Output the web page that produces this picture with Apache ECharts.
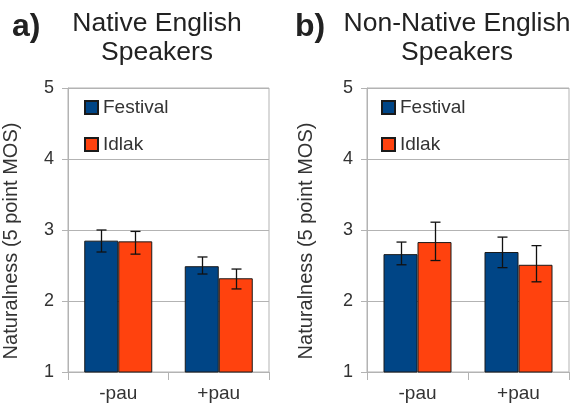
<!DOCTYPE html>
<html>
<head>
<meta charset="utf-8">
<script src="https://cdn.jsdelivr.net/npm/echarts@6/dist/echarts.min.js"></script>
<style>
  html, body { margin: 0; padding: 0; background: #fff; }
  #chart { width: 576px; height: 409px; }
</style>
</head>
<body>
<div id="chart"></div>
<script>
// categories and tick labels
var categories = ['-pau', '+pau'];
var yTicks = [1, 2, 3, 4, 5];

// a) native speakers
var nativeFestival = [2.85, 2.49];
var nativeFestivalLow = [2.69, 2.38];
var nativeFestivalHigh = [3.00, 2.62];
var nativeIdlak = [2.84, 2.32];
var nativeIdlakLow = [2.66, 2.17];
var nativeIdlakHigh = [2.98, 2.45];

// b) non-native speakers
var nonFestival = [2.66, 2.69];
var nonFestivalLow = [2.51, 2.47];
var nonFestivalHigh = [2.83, 2.90];
var nonIdlak = [2.83, 2.51];
var nonIdlakLow = [2.57, 2.27];
var nonIdlakHigh = [3.11, 2.78];

var FONT = '"Liberation Sans", Arial, sans-serif';
var BAR_W = 34;
var colFestival = '#004586';
var colIdlak = '#ff420e';

function errData(low, high) {
  return categories.map(function (c, i) { return [i, low[i], high[i]]; });
}

// error bars, shifted left/right of category centre by half a bar
function errSeries(name, axisIdx, low, high, shift) {
  return {
    type: 'custom',
    name: name + ' err',
    xAxisIndex: axisIdx,
    yAxisIndex: axisIdx,
    silent: true,
    z: 5,
    data: errData(low, high),
    renderItem: function (params, api) {
      var lo = api.coord([api.value(0), api.value(1)]);
      var hi = api.coord([api.value(0), api.value(2)]);
      var x = Math.round(lo[0] + shift) + 0.5;
      var cap = 5;
      var st = { stroke: '#111', lineWidth: 1.3 };
      return {
        type: 'group',
        children: [
          { type: 'line', shape: { x1: x, y1: lo[1], x2: x, y2: hi[1] }, style: st },
          { type: 'line', shape: { x1: x - cap, y1: lo[1], x2: x + cap, y2: lo[1] }, style: st },
          { type: 'line', shape: { x1: x - cap, y1: hi[1], x2: x + cap, y2: hi[1] }, style: st }
        ]
      };
    }
  };
}

function barSeries(name, axisIdx, data, color) {
  return {
    type: 'bar',
    name: name,
    xAxisIndex: axisIdx,
    yAxisIndex: axisIdx,
    data: data,
    barWidth: BAR_W,
    barGap: '0%',
    itemStyle: { color: color, borderColor: '#1a1a1a', borderWidth: 1 }
  };
}

function xAx(gi) {
  return {
    type: 'category',
    gridIndex: gi,
    data: categories,
    axisLine: { lineStyle: { color: '#b3b3b3' } },
    axisTick: { show: true, length: 8, lineStyle: { color: '#b3b3b3' } },
    axisLabel: { color: '#333', fontSize: 19, fontFamily: FONT, margin: 12 }
  };
}

function yAx(gi, gap) {
  return {
    type: 'value',
    gridIndex: gi,
    min: yTicks[0],
    max: yTicks[yTicks.length - 1],
    interval: 1,
    name: 'Naturalness (5 point MOS)',
    nameLocation: 'middle',
    nameGap: gap,
    // right padding nudges the rotated name down a little
    nameTextStyle: { color: '#333', fontSize: 20, fontFamily: FONT, padding: [0, 22, 0, 0] },
    axisLine: { show: true, lineStyle: { color: '#b3b3b3' } },
    axisTick: { show: true, length: 6, lineStyle: { color: '#b3b3b3' } },
    axisLabel: { color: '#333', fontSize: 18, fontFamily: FONT, margin: 14 },
    splitLine: { lineStyle: { color: '#b3b3b3' } }
  };
}

function legendAt(left) {
  return {
    orient: 'vertical',
    left: left,
    top: 93,
    itemGap: 18,
    itemWidth: 13,
    itemHeight: 13,
    icon: 'rect',
    data: ['Festival', 'Idlak'],
    textStyle: { color: '#333', fontSize: 19, fontFamily: FONT }
  };
}

var chart = echarts.init(document.getElementById('chart'));
chart.setOption({
  animation: false,
  title: [
    { text: 'a)', left: 7, top: 6, textStyle: { fontSize: 32, fontWeight: 'bold', color: '#222', fontFamily: FONT } },
    { text: 'Native English\nSpeakers', left: 152, top: 4, textAlign: 'center',
      textStyle: { fontSize: 26.5, lineHeight: 29, fontWeight: 'normal', color: '#222', fontFamily: FONT } },
    { text: 'b)', left: 290, top: 6, textStyle: { fontSize: 32, fontWeight: 'bold', color: '#222', fontFamily: FONT } },
    { text: 'Non-Native English\nSpeakers', left: 452, top: 4, textAlign: 'center',
      textStyle: { fontSize: 26.5, lineHeight: 29, fontWeight: 'normal', color: '#222', fontFamily: FONT } }
  ],
  legend: [legendAt(79), legendAt(376)],
  grid: [
    { left: 64, right: 307, top: 88, bottom: 37, show: true, borderColor: '#b3b3b3', borderWidth: 1 },
    { left: 367, right: 7, top: 88, bottom: 37, show: true, borderColor: '#b3b3b3', borderWidth: 1 }
  ],
  xAxis: [xAx(0), xAx(1)],
  yAxis: [yAx(0, 47), yAx(1, 51)],
  series: [
    barSeries('Festival', 0, nativeFestival, colFestival),
    barSeries('Idlak', 0, nativeIdlak, colIdlak),
    barSeries('Festival', 1, nonFestival, colFestival),
    barSeries('Idlak', 1, nonIdlak, colIdlak),
    errSeries('Festival', 0, nativeFestivalLow, nativeFestivalHigh, -BAR_W / 2),
    errSeries('Idlak', 0, nativeIdlakLow, nativeIdlakHigh, BAR_W / 2),
    errSeries('Festival', 1, nonFestivalLow, nonFestivalHigh, -BAR_W / 2),
    errSeries('Idlak', 1, nonIdlakLow, nonIdlakHigh, BAR_W / 2)
  ]
});
</script>
</body>
</html>
